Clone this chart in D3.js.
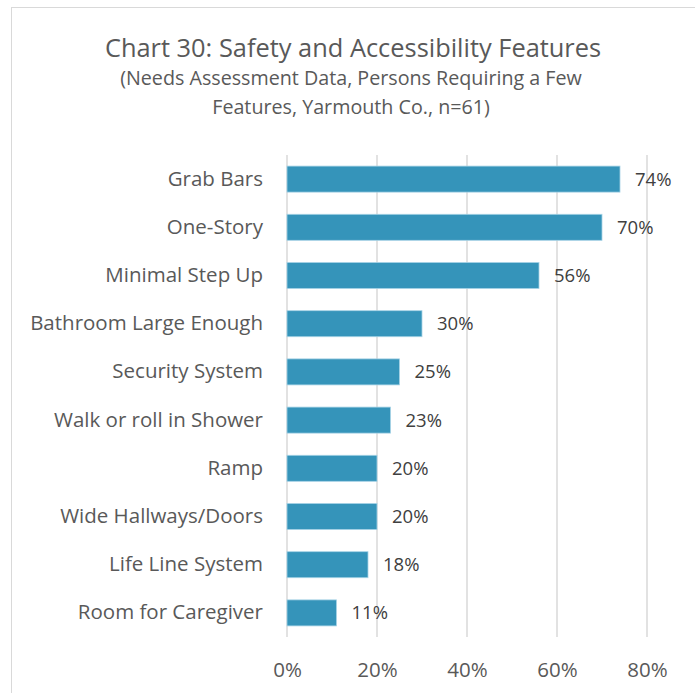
<!DOCTYPE html>
<html>
<head>
<meta charset="utf-8">
<script src="https://cdn.jsdelivr.net/npm/d3@7"></script>
<style>
  body { margin: 0; background: #fff; }
  text { font-family: "Open Sans", sans-serif; }
</style>
</head>
<body>
<div id="chart"></div>
<script>
var categories = ["Grab Bars", "One-Story", "Minimal Step Up", "Bathroom Large Enough",
  "Security System", "Walk or roll in Shower", "Ramp", "Wide Hallways/Doors",
  "Life Line System", "Room for Caregiver"];
var values = [0.74, 0.70, 0.56, 0.30, 0.25, 0.23, 0.20, 0.20, 0.18, 0.11];
var ticks = [0, 0.2, 0.4, 0.6, 0.8];
var titleLines = ["Chart 30: Safety and Accessibility Features"];
var subtitleLines = ["(Needs Assessment Data, Persons Requiring a Few", "Features, Yarmouth Co., n=61)"];

var W = 695, H = 693;
var margin = {top: 155, left: 287, right: 48, bottom: 56};
var width = W - margin.left - margin.right,
    height = H - margin.top - margin.bottom;

var svg = d3.select("#chart").append("svg")
    .attr("width", W).attr("height", H);

// chart frame
svg.append("rect")
    .attr("x", 11.5).attr("y", 7.5)
    .attr("width", W + 10).attr("height", H + 10)
    .attr("fill", "#fff").attr("stroke", "#d9d9d9");

// titles
svg.append("text")
    .attr("x", 353).attr("y", 57)
    .attr("text-anchor", "middle")
    .style("font-size", "25.4px").style("fill", "#595959")
    .text(titleLines[0]);
svg.selectAll(".sub").data(subtitleLines).enter().append("text")
    .attr("class", "sub")
    .attr("x", 351).attr("y", function(d, i) { return 85 + i * 29; })
    .attr("text-anchor", "middle")
    .style("font-size", "19.7px").style("fill", "#595959")
    .text(function(d) { return d; });

var g = svg.append("g")
    .attr("transform", "translate(" + margin.left + "," + margin.top + ")");

var x = d3.scaleLinear().domain([0, 0.8]).range([0, width]);
var y = d3.scaleBand().domain(categories).range([0, height]).paddingInner(0.46).paddingOuter(0.23);

// gridlines
g.selectAll(".grid").data(ticks).enter().append("line")
    .attr("x1", function(d) { return x(d); }).attr("x2", function(d) { return x(d); })
    .attr("y1", 0).attr("y2", height)
    .attr("stroke", "#d9d9d9").attr("stroke-width", 1.5);

// x axis labels
var xAxis = g.append("g")
    .attr("transform", "translate(0," + height + ")")
    .call(d3.axisBottom(x).tickValues(ticks).tickFormat(d3.format(".0%")).tickSize(0).tickPadding(25));
xAxis.select(".domain").remove();
xAxis.selectAll("text").style("font-size", "20.5px").style("fill", "#595959")
    .style("font-family", "Open Sans, sans-serif");

// y axis labels
var yAxis = g.append("g")
    .call(d3.axisLeft(y).tickSize(0).tickPadding(24));
yAxis.select(".domain").remove();
yAxis.selectAll("text").style("font-size", "20.5px").style("fill", "#595959")
    .style("font-family", "Open Sans, sans-serif");

// bars
g.selectAll(".bar").data(values).enter().append("rect")
    .attr("class", "bar")
    .attr("x", 0)
    .attr("y", function(d, i) { return y(categories[i]); })
    .attr("width", function(d) { return x(d); })
    .attr("height", y.bandwidth())
    .attr("fill", "#3594ba")
    .attr("stroke", "#a7d3e6").attr("stroke-width", 0.8);

// value labels
g.selectAll(".val").data(values).enter().append("text")
    .attr("class", "val")
    .attr("x", function(d) { return x(d) + 15; })
    .attr("y", function(d, i) { return y(categories[i]) + y.bandwidth() / 2; })
    .attr("dy", "0.35em")
    .style("font-size", "18.5px").style("fill", "#404040")
    .text(function(d) { return d3.format(".0%")(d); });
</script>
</body>
</html>
